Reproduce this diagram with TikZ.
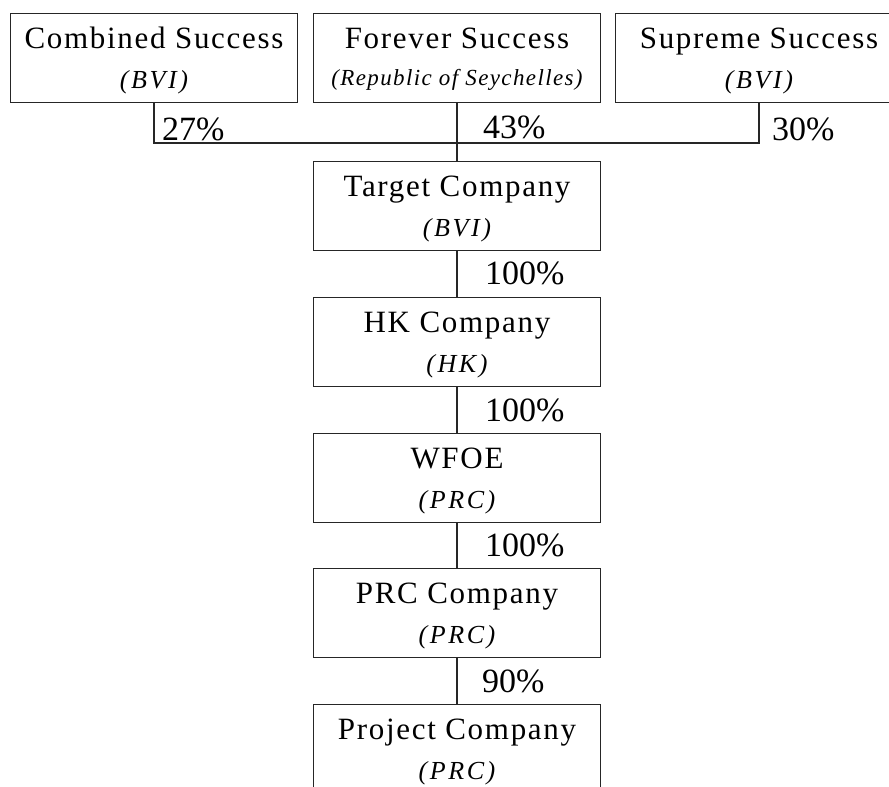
\documentclass[tikz,border=0pt]{standalone}
\usepackage{fontspec}
\setmainfont{Liberation Serif}
\newfontfamily\namefont{Liberation Serif}[LetterSpace=5.5]
\newfontfamily\placefont{Liberation Serif}[LetterSpace=10]
\newfontfamily\longplacefont{Liberation Serif}[LetterSpace=6]
\usetikzlibrary{calc}

\tikzset{
  firmbox/.style={draw=black!85, line width=1.3pt, rectangle, inner sep=0pt,
    minimum width=287pt, minimum height=89pt, anchor=north},
  firmname/.style={inner sep=0pt, anchor=base, font=\namefont\fontsize{31}{37}\selectfont},
  firmplace/.style={inner sep=0pt, anchor=base, font=\placefont\fontsize{26}{31}\selectfont\itshape},
  share/.style={inner sep=0pt, anchor=base west, font=\fontsize{34}{40}\selectfont},
  link/.style={draw=black!85, line width=1.3pt},
}

% \firm{id}{x}{top}{name}{jurisdiction}
\newcommand{\firm}[5]{%
  \node[firmbox] (#1) at (#2,#3) {};
  \node[firmname] (#1-name) at ($(#1.north)+(0,35.5)$) {#4};
  \node[firmplace] (#1-place) at ($(#1.north)+(0,75.5)$) {#5};
}

\begin{document}
\begin{tikzpicture}[x=1pt, y=-1pt]
  \useasboundingbox (0,0) rectangle (889,787);
  \clip (0,0) rectangle (889,787);

  % shareholders
  \firm{comb}{154}{13}{Combined Success}{(BVI)}
  \node[firmbox] (fore) at (457,13) {};
  \node[firmname] (fore-name) at ($(fore.north)+(0,35.5)$) {Forever Success};
  \node[firmplace, font=\longplacefont\fontsize{23}{28}\selectfont\itshape] (fore-place)
    at ($(fore.north)+(0,72.5)$) {(Republic of Seychelles)};
  \firm{sup}{759}{13}{Supreme Success}{(BVI)}

  % ownership chain
  \firm{tgt}{457}{161}{Target Company}{(BVI)}
  \firm{hk}{457}{297}{HK Company}{(HK)}
  \firm{wfoe}{457}{433}{WFOE}{(PRC)}
  \firm{prc}{457}{568}{PRC Company}{(PRC)}
  \firm{proj}{457}{704}{Project Company}{(PRC)}

  % connectors
  \coordinate (bus) at (457,143);
  \draw[link] (comb.south) |- (bus) -| (sup.south);
  \draw[link] (fore.south) -- (tgt.north);
  \draw[link] (tgt.south) -- (hk.north);
  \draw[link] (hk.south) -- (wfoe.north);
  \draw[link] (wfoe.south) -- (prc.north);
  \draw[link] (prc.south) -- (proj.north);

  % shareholdings
  \node[share] (p-comb) at (162,140) {27\%};
  \node[share] (p-fore) at (483,138.5) {43\%};
  \node[share] (p-sup) at (772,140) {30\%};
  \node[share] (p-tgt) at (485,284) {100\%};
  \node[share] (p-hk) at (485,421) {100\%};
  \node[share] (p-wfoe) at (485,556) {100\%};
  \node[share] (p-prc) at (482,692) {90\%};
\end{tikzpicture}
\end{document}
